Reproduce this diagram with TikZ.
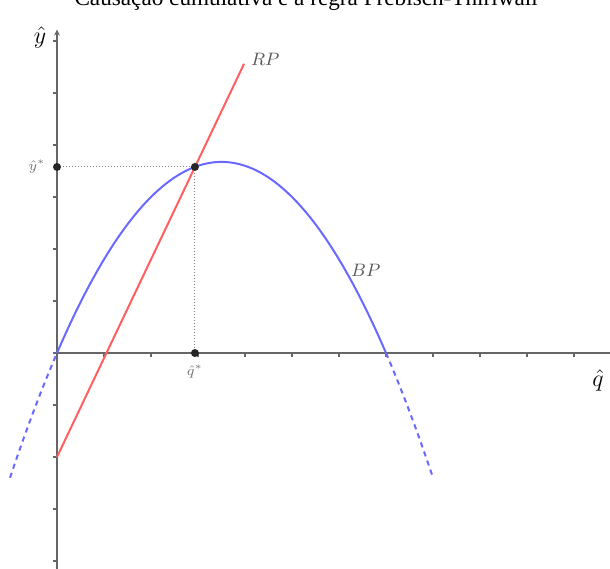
\documentclass[tikz,border=0pt]{standalone}
\usepackage{fontspec}
\newfontfamily\titlefont{Liberation Serif}
\usetikzlibrary{positioning,arrows.meta,intersections,calc}

\definecolor{rpred}{RGB}{255,95,95}
\definecolor{bpblue}{RGB}{105,105,255}

\begin{document}
\begin{tikzpicture}[
  x=23.5pt, y=26pt,
  axis/.style={line width=1pt,draw=black!60},
  tick/.style={line width=0.6pt,draw=black!60},
  rp/.style={line width=1pt,draw=rpred},
  bp/.style={line width=1pt,draw=bpblue},
  bpext/.style={bp,dash pattern=on 2.6pt off 2.2pt},
  guide/.style={densely dotted,line width=0.5pt,draw=black!50},
  dot/.style={circle,fill=black!85,inner sep=0pt,minimum size=4pt},
  curvelbl/.style={text=black!65,font=\small},
  starlbl/.style={text=black!55,font=\scriptsize},
]
\useasboundingbox (-1.2128,-4.1346) rectangle (11.766,6.7885);

% title (top edge of the page cuts it)
\node[anchor=base,font=\titlefont\fontsize{11.6}{13}\selectfont] (title) at (5.3,6.69)
  {Causação cumulativa e a regra Prebisch-Thirlwall};

% axes
\coordinate (O) at (0,0);
\coordinate (ytop) at (0,6.22);
\coordinate (ybot) at (0,-4.3);
\coordinate (xend) at (12,0);
\draw[axis,-{Stealth[length=3pt,width=3pt]}] (ybot) -- (ytop);
\draw[axis] (O) -- (xend);
\foreach \k in {1,...,11} \draw[tick] (\k,0) -- ++(0,-2pt);
\foreach \k in {-4,...,6} \draw[tick] (0,\k) -- ++(-2pt,0);

\node[font=\large] (yhat) at (-0.36,6.06) {$\hat{y}$};
\node[font=\large] (qhat) at (11.51,-0.52) {$\hat{q}$};

% curves
\draw[bp,name path=bpcurve] plot[domain=0:7,samples=80,smooth] (\x,{0.3*\x*(7-\x)});
\draw[bpext] plot[domain=-1:0,samples=20,smooth] (\x,{0.3*\x*(7-\x)});
\draw[bpext] plot[domain=7:8,samples=20,smooth] (\x,{0.3*\x*(7-\x)});
\coordinate (rpstart) at (0,-2);
\coordinate (rpend) at (3.98,5.562);
\draw[rp,name path=rpline] (rpstart) -- (rpend);

\node[curvelbl,anchor=south west] (rplbl) at (3.98,5.4) {$RP$};
\node[curvelbl] (bplbl) at (6.57,1.58) {$BP$};

% equilibrium
\path[name intersections={of=rpline and bpcurve,by=E}];
\coordinate (ystar) at (O |- E);
\coordinate (qstar) at (E |- O);
\draw[guide] (ystar) -- (E) -- (qstar);
\node[dot] (Edot) at (E) {};
\node[dot] (ydot) at (ystar) {};
\node[dot] (qdot) at (qstar) {};
\node[starlbl,left=0pt of ydot] (ylbl) {$\hat{y}^{*}$};
\node[starlbl,below=0pt of qdot] (qlbl) {$\hat{q}^{*}$};
\end{tikzpicture}
\end{document}
